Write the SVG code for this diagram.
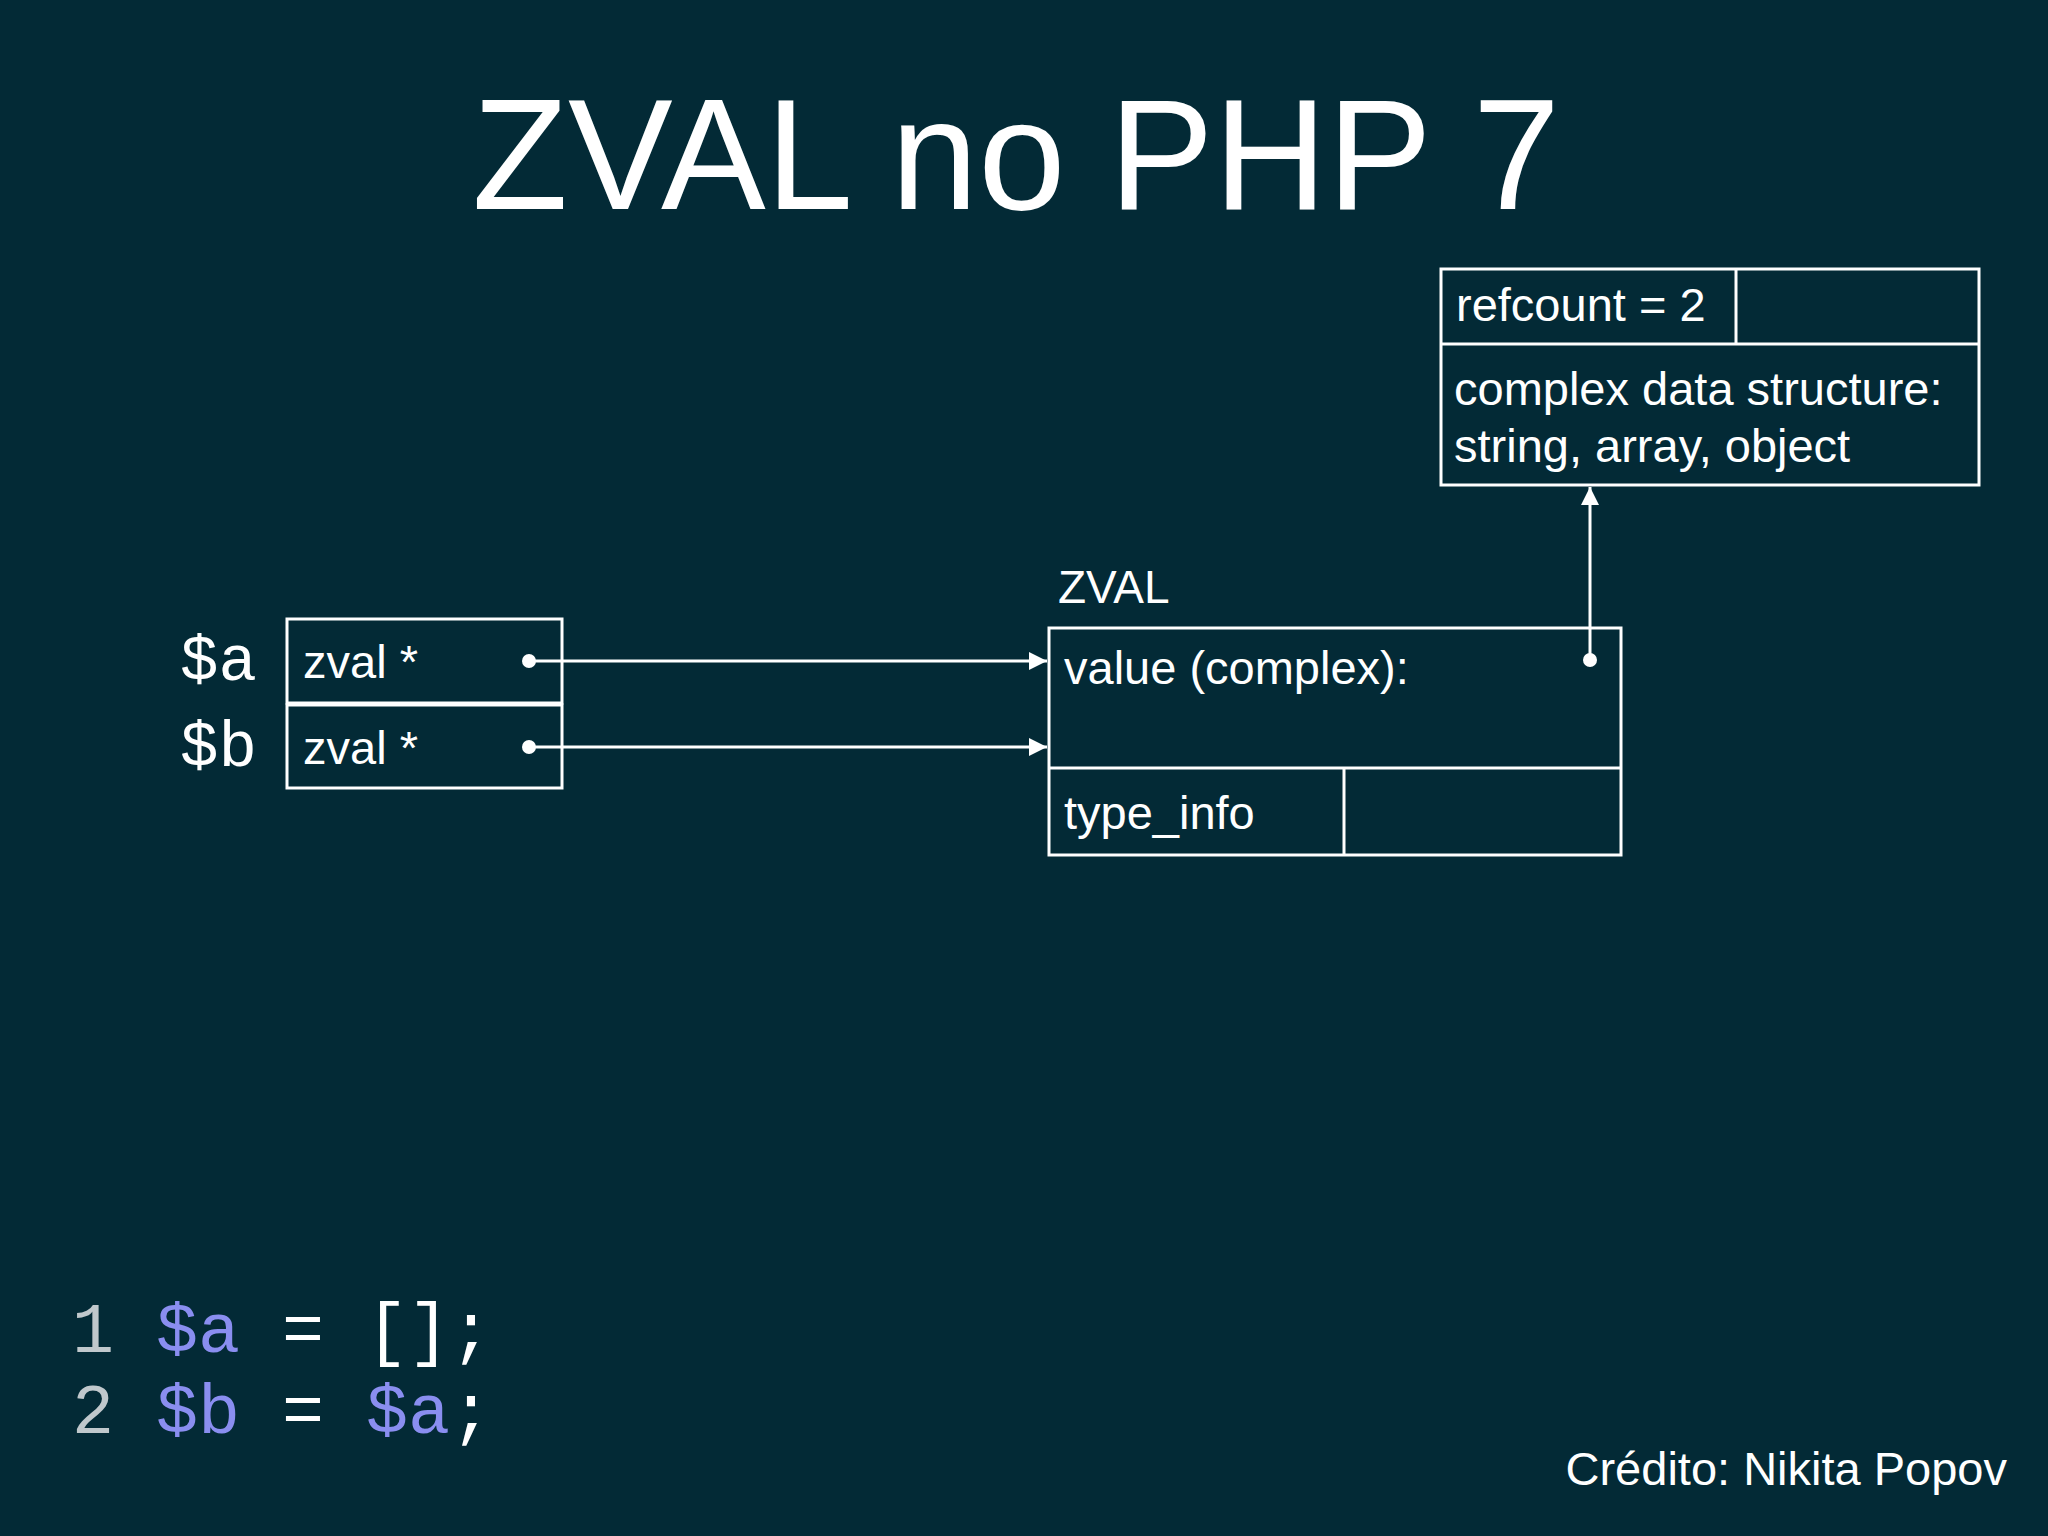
<svg xmlns="http://www.w3.org/2000/svg" width="2048" height="1536" viewBox="0 0 2048 1536">
<style>
text{font-family:"Helvetica Neue","Liberation Sans",Arial,sans-serif;fill:#fff;font-weight:300}
.b{fill:none;stroke:#fff;stroke-width:3}
.l{stroke:#fff;stroke-width:3;fill:none}
text.m{font-family:"Liberation Mono","Courier New",monospace;font-weight:normal}
</style>
<defs><marker id="ah" viewBox="0 0 10 10" refX="10" refY="5" markerWidth="6" markerHeight="6" markerUnits="strokeWidth" orient="auto"><path d="M0,0L10,5L0,10z" fill="#fff"/></marker></defs>
<rect width="2048" height="1536" fill="#032a36"/>
<text x="1016" y="209" font-size="157" text-anchor="middle">ZVAL no PHP 7</text>
<g id="heap">
<rect class="b" x="1441" y="269" width="538" height="216"/>
<line class="l" x1="1441" y1="344" x2="1979" y2="344"/>
<line class="l" x1="1736" y1="269" x2="1736" y2="344"/>
<text x="1456" y="321" font-size="47">refcount = 2</text>
<text x="1454" y="405" font-size="47">complex data structure:</text>
<text x="1454" y="462" font-size="47">string, array, object</text>
</g>
<g id="zval">
<text x="1058" y="603" font-size="46">ZVAL</text>
<rect class="b" x="1049" y="628" width="572" height="227"/>
<line class="l" x1="1049" y1="768" x2="1621" y2="768"/>
<line class="l" x1="1344" y1="768" x2="1344" y2="855"/>
<text x="1064" y="684" font-size="47">value (complex):</text>
<text x="1064" y="829" font-size="47">type_info</text>
</g>
<g id="vars">
<rect class="b" x="287" y="619" width="275" height="84"/>
<rect class="b" x="287" y="705" width="275" height="83"/>
<text x="303" y="678" font-size="47">zval *</text>
<text x="303" y="764" font-size="47">zval *</text>
<text class="m" x="180" y="680" font-size="64">$a</text>
<text class="m" x="180" y="766" font-size="64">$b</text>
</g>
<g id="connectors">
<circle cx="529" cy="661" r="7" fill="#fff"/>
<circle cx="529" cy="747" r="7" fill="#fff"/>
<circle cx="1590" cy="660" r="7" fill="#fff"/>
<line class="l" x1="529" y1="661" x2="1047" y2="661" marker-end="url(#ah)"/>
<line class="l" x1="529" y1="747" x2="1047" y2="747" marker-end="url(#ah)"/>
<line class="l" x1="1590" y1="660" x2="1590" y2="487" marker-end="url(#ah)"/>
</g>
<g id="code">
<text class="m" x="72" y="1352" font-size="70"><tspan fill="#c0c8cc">1 </tspan><tspan fill="#8a8ef0">$a</tspan> = [];</text>
<text class="m" x="72" y="1433" font-size="70"><tspan fill="#c0c8cc">2 </tspan><tspan fill="#8a8ef0">$b</tspan> = <tspan fill="#8a8ef0">$a</tspan>;</text>
</g>
<text x="2007" y="1485" font-size="47" text-anchor="end">Crédito: Nikita Popov</text>
</svg>
